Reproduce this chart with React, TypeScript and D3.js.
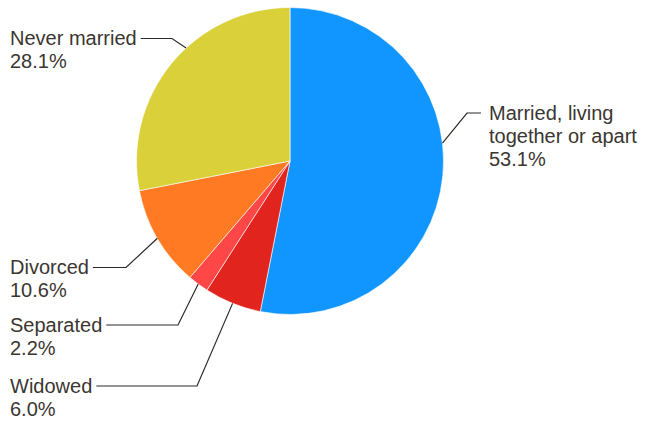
import React, { useEffect, useRef } from "react";
import * as d3 from "d3";

const categories = ["Married, living together or apart", "Widowed", "Separated", "Divorced", "Never married"];
const labelLines = [["Married, living", "together or apart"], ["Widowed"], ["Separated"], ["Divorced"], ["Never married"]];
const values = [53.1, 6.0, 2.2, 10.6, 28.1];
const colors = ["#1196FF", "#E1241D", "#FF4747", "#FF7A22", "#D9D03A"];

// label layout: text anchor position, elbow of leader line, angle (deg) where leader touches the pie (null = slice middle)
const labelX = [489, 10, 10, 10, 10];
const labelY = [119.5, 392.5, 331.5, 274, 45];
const elbowX = [467, 197, 178, 126, 172];
const anchorDeg: (number | null)[] = [83.3, null, null, null, 317.4];

const W = 649, H = 421;
const cx = 290, cy = 161, R = 153.5;
const lineH = 23;

export default function App() {
  const ref = useRef<SVGSVGElement>(null);
  useEffect(() => {
    const svg = d3.select(ref.current);
    svg.selectAll("*").remove();
    const pie = d3.pie<number>().sort(null).value(d => d)(values);
    const arc = d3.arc<d3.PieArcDatum<number>>().innerRadius(0).outerRadius(R);
    const g = svg.append("g").attr("transform", `translate(${cx},${cy})`);
    g.selectAll("path").data(pie).join("path")
      .attr("d", arc as any)
      .attr("fill", (_, i) => colors[i])
      .attr("stroke", "#fff").attr("stroke-width", 0.6);

    const lab = svg.append("g").attr("font-family", "'Liberation Sans', Arial, sans-serif").attr("font-size", 20).attr("fill", "#3B3631");
    pie.forEach((p, i) => {
      const lines = [...labelLines[i], values[i].toFixed(1) + "%"];
      const t = lab.append("text").attr("x", labelX[i]).attr("y", labelY[i]);
      lines.forEach((s, j) => t.append("tspan").attr("x", labelX[i]).attr("dy", j === 0 ? 0 : lineH).text(s));
      const ang = anchorDeg[i] != null ? (anchorDeg[i] as number) * Math.PI / 180 : (p.startAngle + p.endAngle) / 2;
      const ex = cx + R * Math.sin(ang), ey = cy - R * Math.cos(ang);
      const ly = labelY[i] - 6.5;
      let hx: number;
      if (i === 0) {
        hx = labelX[i] - 8;
      } else {
        const first = (t.select("tspan").node() as SVGTSpanElement);
        const w = first.getComputedTextLength();
        hx = labelX[i] + w + 4;
      }
      svg.append("path")
        .attr("d", d3.line()([[hx, ly], [elbowX[i], ly], [ex, ey]]))
        .attr("fill", "none").attr("stroke", "#2E2A26").attr("stroke-width", 1.2);
    });
  }, []);
  return <svg ref={ref} width={W} height={H} style={{ position: "absolute", left: 0, top: 0 }} />;
}
